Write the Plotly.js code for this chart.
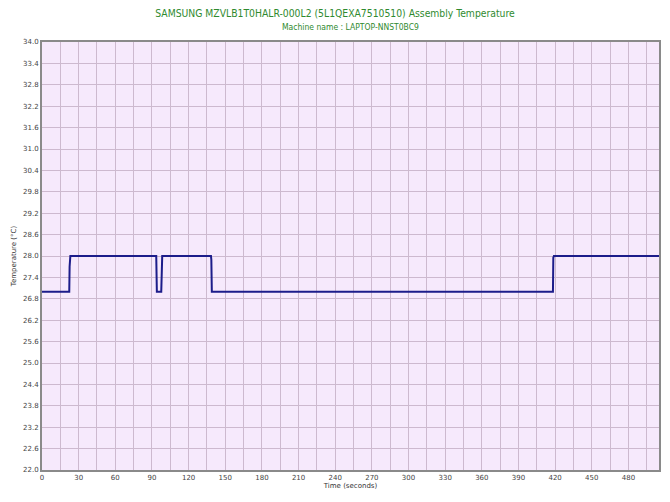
<!DOCTYPE html>
<html><head><meta charset="utf-8">
<script src="https://cdn.plot.ly/plotly-3.0.1.min.js"></script>
<style>html,body{margin:0;padding:0;background:#fff}#c{width:670px;height:502px}</style>
</head><body><div id="c"></div>
<script>
const timeSec = [0, 22.3, 22.6, 23.2, 93.5, 94.0, 97.6, 98.0, 98.4, 138.3, 138.6, 139.0, 418.2, 418.5, 419.0, 505];
const tempC   = [27.0, 27.0, 27.7, 28.0, 28.0, 27.0, 27.0, 27.7, 28.0, 28.0, 27.9, 27.0, 27.0, 27.95, 28.0, 28.0];
const yTicks = [];
for (let v = 22.0; v <= 34.0001; v += 0.6) yTicks.push(+v.toFixed(1));
const xTicks = [0,30,60,90,120,150,180,210,240,270,300,330,360,390,420,450,480];
const titleText = 'SAMSUNG MZVLB1T0HALR-000L2 (5L1QEXA7510510) Assembly Temperature';
const subText = 'Machine name : LAPTOP-NNST0BC9';

const trace = {x: timeSec, y: tempC, type: 'scatter', mode: 'lines',
  line: {color: '#1c1c8a', width: 2}, hoverinfo: 'skip'};

const layout = {
  width: 670, height: 502,
  margin: {l: 42, r: 11, t: 42, b: 32},
  paper_bgcolor: '#ffffff', plot_bgcolor: '#f6e9fc',
  showlegend: false,
  font: {family: 'DejaVu Sans, Verdana, sans-serif', color: '#333'},
  title: {text: titleText, font: {size: 10.3, color: '#2f8a2f', family: 'DejaVu Sans Condensed, DejaVu Sans'},
    x: 0.5, xanchor: 'center', y: 1 - 13/502, yanchor: 'middle', yref: 'container'},
  annotations: [{text: subText, xref: 'paper', yref: 'paper', x: 0.5, y: (470-27)/428,
    xanchor: 'center', yanchor: 'middle', showarrow: false,
    font: {size: 8.5, color: '#2f8a2f', family: 'DejaVu Sans Condensed, DejaVu Sans'}}],
  xaxis: {range: [0, 505], tickmode: 'array', tickvals: xTicks,
    ticks: '', tickfont: {size: 7, color: '#444'}, showgrid: true, gridcolor: '#cdb9cf', gridwidth: 1,
    minor: {dtick: 15, tick0: 0, showgrid: true, gridcolor: '#cdb9cf', gridwidth: 1},
    zeroline: false, showline: true, linecolor: '#8a8a8a', linewidth: 2, mirror: true,
    title: {text: 'Time (seconds)', font: {size: 7, color: '#333'}, standoff: 1}},
  yaxis: {range: [22, 34], tickmode: 'array', tickvals: yTicks, ticktext: yTicks.map(v => v.toFixed(1)),
    ticks: '', tickfont: {size: 7, color: '#444'}, showgrid: true, gridcolor: '#cdb9cf', gridwidth: 1,
    zeroline: false, showline: true, linecolor: '#8a8a8a', linewidth: 2, mirror: true,
    title: {text: 'Temperature (°C)', font: {size: 7, color: '#333'}, standoff: 6}}
};
Plotly.newPlot('c', [trace], layout, {displayModeBar: false, staticPlot: true});
</script></body></html>
